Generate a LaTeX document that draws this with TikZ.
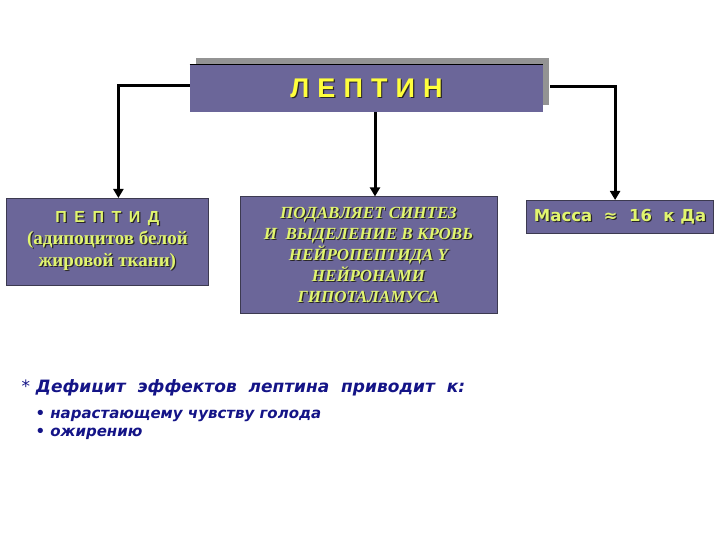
\documentclass[tikz,border=0pt]{standalone}
\usepackage{fontspec}
\setmainfont{Liberation Serif}
\newfontfamily\spacedfont[LetterSpace=30]{Liberation Sans}
\newfontfamily\widefont[LetterSpace=47]{Liberation Sans}
\newfontfamily\verdfont{DejaVu Sans}
\usepackage{xcolor}
\usetikzlibrary{arrows.meta,calc,positioning,shadows}

\definecolor{boxfill}{RGB}{107,102,153}
\definecolor{boxline}{RGB}{60,58,80}
\definecolor{titleyellow}{RGB}{255,255,60}
\definecolor{textyellow}{RGB}{225,245,110}
\definecolor{textshadow}{RGB}{40,38,40}
\definecolor{navy}{RGB}{20,20,135}

% text with a dark drop shadow
\newcommand{\shad}[1]{\leavevmode\rlap{\hspace{1.2pt}\raisebox{-1.2pt}{\color{textshadow}#1}}#1}

\begin{document}
\begin{tikzpicture}[
			x=1pt, y=-1pt,
			>=Latex,
			box/.style={draw=boxline, line width=0.8pt, fill=boxfill, rectangle, inner sep=0pt, align=center, text=textyellow},
			titlebox/.style={box, draw=none, minimum width=353pt, minimum height=47pt, text=titleyellow,
				general shadow={fill=gray!85, shadow xshift=6pt, shadow yshift=7pt}},
			link/.style={-{Triangle[width=10pt,length=9pt]}, line width=3pt},
			note/.style={anchor=west, text=navy, font=\verdfont\bfseries\itshape}
			]
			\useasboundingbox (0,0) rectangle (720,540);
			
			\node[titlebox] (title) at (366.5,88.5) {\fontsize{27}{30}\spacedfont\bfseries\shad{ЛЕПТИН}};
			\draw[black, line width=1pt] (title.north west) -- (title.north east);
			
			\node[box, below=84pt of title, xshift=2pt, minimum width=257pt, minimum height=117pt,
				font=\fontsize{17}{21}\selectfont\bfseries\itshape] (synth) {%
				\shad{ПОДАВЛЯЕТ СИНТЕЗ}\\
				\shad{И~~ВЫДЕЛЕНИЕ В КРОВЬ}\\
				\shad{НЕЙРОПЕПТИДА Y}\\
				\shad{НЕЙРОНАМИ}\\
				\shad{ГИПОТАЛАМУСА}};
			
			\node[box, anchor=north west, minimum width=202pt, minimum height=87pt,
				font=\fontsize{19}{22}\selectfont\bfseries] (peptid) at (6,198) {%
				{\fontsize{16}{22}\widefont\bfseries\shad{ПЕПТИД}}\\
				\shad{(адипоцитов белой}\\
				\shad{жировой ткани)}};
			
			\node[box, anchor=north east, minimum width=187pt, minimum height=33pt,
				font=\fontsize{16.5}{20}\verdfont\bfseries] (massa) at (714,200) {\shad{Масса~~≈~~16~~к~Да}};
			
			\coordinate (midtap) at ([xshift=8.5pt]title.south);
			
			\draw[link] ([yshift=3pt]title.west) -| ([xshift=11pt]peptid.north);
			\draw[link] ([yshift=2pt,xshift=7pt]title.east) -| ([xshift=-5pt]massa.north);
			\draw[link] (midtap) -- (midtap |- synth.north);
			
			% deficit notes
			\node[note, font=\fontsize{17}{20}\verdfont\bfseries\itshape] (deficit) at (18,388) {{\upshape\mdseries *} Дефицит~ эффектов~ лептина~ приводит~ к:};
			\node[note, font=\fontsize{15}{18}\verdfont\bfseries\itshape] (hunger) at (32,416) {• нарастающему чувству голода};
			\node[note, font=\fontsize{15}{18}\verdfont\bfseries\itshape] (obesity) at (32,434) {• ожирению};
		\end{tikzpicture}
\end{document}
